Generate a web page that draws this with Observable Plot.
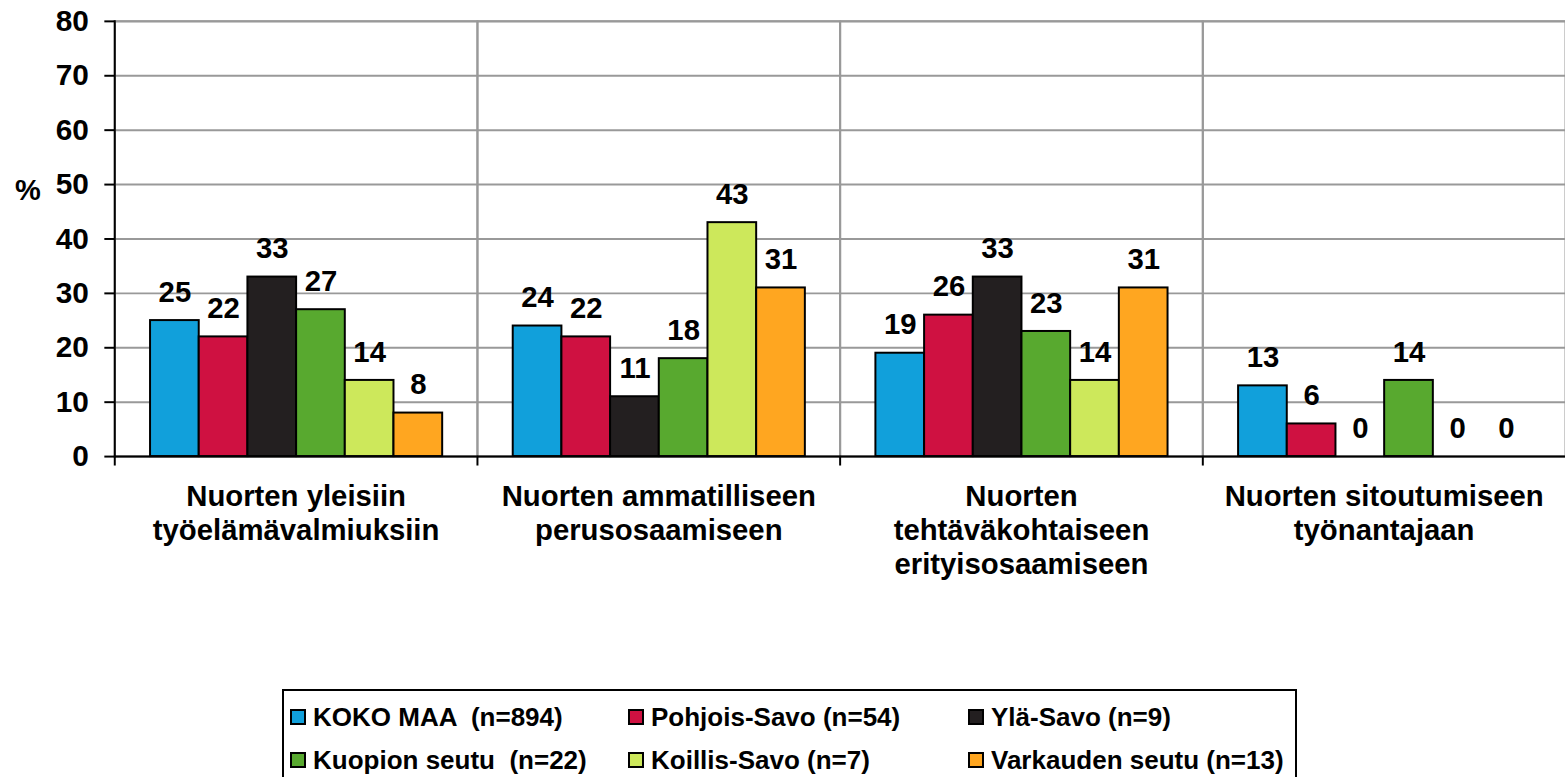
<!DOCTYPE html>
<html>
<head>
<meta charset="utf-8">
<script src="https://cdn.jsdelivr.net/npm/d3@7"></script>
<script src="https://cdn.jsdelivr.net/npm/@observablehq/plot@0.6"></script>
<style>
  html, body { margin: 0; padding: 0; background: #fff; overflow: hidden; }
  #wrap { position: relative; width: 1565px; height: 777px; overflow: hidden; font-family: "Liberation Sans", Arial, sans-serif; }
  #chart { position: absolute; left: 0; top: 0; }
  #pct { position: absolute; left: 15px; top: 176px; font-size: 29px; line-height: 29px; font-weight: bold; color: #000; }
  #legend { position: absolute; left: 282px; top: 689px; width: 1011px; height: 120px; border: 2px solid #000; box-sizing: content-box; }
  .item { position: absolute; height: 30px; display: flex; align-items: center; white-space: pre; font-size: 26px; font-weight: bold; color: #000; }
  .sw { width: 12px; height: 12px; border: 2px solid #000; margin-right: 7px; flex: none; }
</style>
</head>
<body>
<div id="wrap">
  <div id="chart"></div>
  <div id="pct">%</div>
  <div id="legend"></div>
</div>
<script>
const categories = [
  "Nuorten yleisiin\ntyöelämävalmiuksiin",
  "Nuorten ammatilliseen\nperusosaamiseen",
  "Nuorten\ntehtäväkohtaiseen\nerityisosaamiseen",
  "Nuorten sitoutumiseen\ntyönantajaan"
];
const series = [
  "KOKO MAA  (n=894)",
  "Pohjois-Savo (n=54)",
  "Ylä-Savo (n=9)",
  "Kuopion seutu  (n=22)",
  "Koillis-Savo (n=7)",
  "Varkauden seutu (n=13)"
];
const colors = ["#11A0DB", "#CF1141", "#231F20", "#58A92F", "#CDE85B", "#FFA620"];
const kokoMaa      = [25, 24, 19, 13];
const pohjoisSavo  = [22, 22, 26, 6];
const ylaSavo      = [33, 11, 33, 0];
const kuopionSeutu = [27, 18, 23, 14];
const koillisSavo  = [14, 43, 14, 0];
const varkaudenSeutu = [8, 31, 31, 0];
const yTicks = [0, 10, 20, 30, 40, 50, 60, 70, 80];

const valuesBySeries = [kokoMaa, pohjoisSavo, ylaSavo, kuopionSeutu, koillisSavo, varkaudenSeutu];
const data = [];
categories.forEach((c, i) => {
  series.forEach((s, j) => {
    data.push({category: c, series: s, value: valuesBySeries[j][i]});
  });
});

const chart = Plot.plot({
  width: 1575,
  height: 620,
  marginLeft: 115,
  marginRight: 0,
  marginTop: 21,
  marginBottom: 161,
  style: {fontFamily: "'Liberation Sans', Arial, sans-serif", background: "transparent", color: "#000", overflow: "visible"},
  fx: {domain: categories, padding: 0, label: null},
  x: {domain: series, paddingInner: 0, paddingOuter: 0.72, axis: null},
  y: {domain: [0, 80], label: null},
  color: {domain: series, range: colors},
  marks: [
    Plot.gridY(yTicks, {stroke: "#999", strokeOpacity: 1, strokeWidth: 2}),
    Plot.frame({stroke: "#999", strokeWidth: 2}),
    Plot.barY(data, {fx: "category", x: "series", y: "value", fill: "series", stroke: "#000", strokeWidth: 2}),
    Plot.text(data, {fx: "category", x: "series", y: "value", text: d => String(d.value), dy: -19, lineAnchor: "bottom", fontSize: 29.5, fontWeight: "bold", fill: "#000"}),
    Plot.ruleY([0], {stroke: "#000", strokeWidth: 2}),
    Plot.frame({anchor: "left", stroke: "#000", strokeWidth: 2, facet: "super"}),
    Plot.frame({anchor: "left", stroke: "#000", strokeWidth: 2, insetTop: 438, insetBottom: -8}),
    Plot.axisY({ticks: yTicks, tickSize: 10, tickPadding: 16, strokeWidth: 2, fontSize: 30, fontWeight: "bold", label: null}),
    Plot.axisFx({anchor: "bottom", tickSize: 0, tickPadding: 25, fontSize: 29.5, fontWeight: "bold", lineHeight: 1.16, label: null, tickFormat: d => d})
  ]
});
document.getElementById("chart").appendChild(chart);

const legend = document.getElementById("legend");
const colX = [6, 344, 684];
const rowY = [11, 54];
series.forEach((s, j) => {
  const item = document.createElement("div");
  item.className = "item";
  item.style.left = colX[j % 3] + "px";
  item.style.top = rowY[Math.floor(j / 3)] + "px";
  const sw = document.createElement("span");
  sw.className = "sw";
  sw.style.background = colors[j];
  const tx = document.createElement("span");
  tx.textContent = s;
  item.appendChild(sw);
  item.appendChild(tx);
  legend.appendChild(item);
});
</script>
</body>
</html>
